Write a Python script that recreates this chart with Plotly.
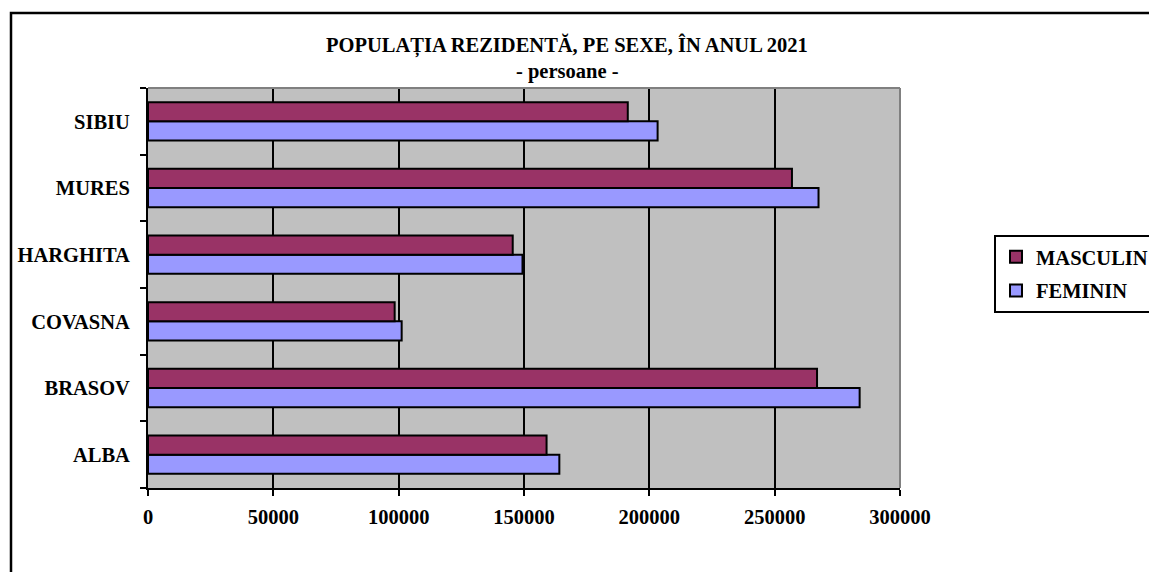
import plotly.graph_objects as go

# ---- data ----
counties = ["ALBA", "BRASOV", "COVASNA", "HARGHITA", "MURES", "SIBIU"]
masculin = [159000, 266900, 98400, 145500, 256900, 191400]
feminin = [164100, 283900, 101200, 149400, 267500, 203300]
x_ticks = [0, 50000, 100000, 150000, 200000, 250000, 300000]
x_tick_labels = [str(v) for v in x_ticks]
title_text = "POPULAȚIA REZIDENTĂ, PE SEXE, ÎN ANUL 2021"
subtitle_text = "- persoane -"

FONT = "Liberation Serif, Times New Roman, serif"
FS = 20.5
L, R, T, B = 148, 249, 88, 84
PW = 1149 - L - R   # plot width in px
PH = 572 - T - B    # plot height in px


def px_x(p):
    return (p - L) / PW


def px_y(p):
    return (572 - B - p) / PH


fig = go.Figure()
fig.add_trace(go.Bar(
    y=counties, x=feminin, orientation="h", name="FEMININ",
    legendgroup="f", legendrank=2,
    marker=dict(color="#9999FF", line=dict(color="black", width=2)),
))
fig.add_trace(go.Bar(
    y=counties, x=masculin, orientation="h", name="MASCULIN",
    legendgroup="m", legendrank=1,
    marker=dict(color="#993366", line=dict(color="black", width=2)),
))

fig.update_layout(
    width=1149, height=572,
    margin=dict(l=L, r=R, t=T, b=B, pad=0, autoexpand=False),
    paper_bgcolor="white", plot_bgcolor="#C0C0C0",
    barmode="group", bargap=0.425, bargroupgap=0,
    font=dict(family=FONT, size=FS, color="black", weight="bold"),
    showlegend=True,
    legend=dict(
        x=px_x(994), y=px_y(235), xanchor="left", yanchor="top",
        bgcolor="white", bordercolor="black", borderwidth=2,
        traceorder="grouped", tracegroupgap=4,
        font=dict(family=FONT, size=FS, color="black", weight="bold"),
    ),
    xaxis=dict(
        range=[0, 300000], tickvals=x_ticks, ticktext=x_tick_labels,
        showgrid=True, gridcolor="black", gridwidth=2,
        showline=True, linecolor="black", linewidth=2,
        ticks="outside", ticklen=6, tickwidth=2, tickcolor="black",
        ticklabelstandoff=3,
        zeroline=False,
        tickfont=dict(family=FONT, size=FS, color="black", weight="bold"),
    ),
    yaxis=dict(
        type="category", categoryorder="array", categoryarray=counties,
        showgrid=False, showline=True, linecolor="black", linewidth=2,
        ticks="outside", ticklen=6, tickwidth=2, tickcolor="black",
        tickson="boundaries", zeroline=False, ticklabelstandoff=12,
        tickfont=dict(family=FONT, size=FS, color="black", weight="bold"),
    ),
    annotations=[
        dict(text=title_text, xref="paper", yref="paper", x=px_x(567), y=px_y(45),
             xanchor="center", yanchor="middle", showarrow=False,
             font=dict(family=FONT, size=FS, color="black", weight="bold")),
        dict(text=subtitle_text, xref="paper", yref="paper", x=px_x(567), y=px_y(72),
             xanchor="center", yanchor="middle", showarrow=False,
             font=dict(family=FONT, size=FS, color="black", weight="bold")),
    ],
    shapes=[
        # outer chart frame
        dict(type="rect", xref="paper", yref="paper", x0=px_x(11), x1=px_x(1200),
             y0=px_y(620), y1=px_y(13), line=dict(color="black", width=2.5),
             layer="above"),
        # gray plot-area border (top and right)
        dict(type="line", xref="paper", yref="paper", x0=0, x1=1, y0=1, y1=1,
             line=dict(color="#808080", width=2), layer="above"),
        dict(type="line", xref="paper", yref="paper", x0=1, x1=1, y0=0, y1=1,
             line=dict(color="#808080", width=2), layer="above"),
    ],
)

fig.write_html("out.html", config={"displayModeBar": False},
               post_script="document.body.style.margin='0';")
